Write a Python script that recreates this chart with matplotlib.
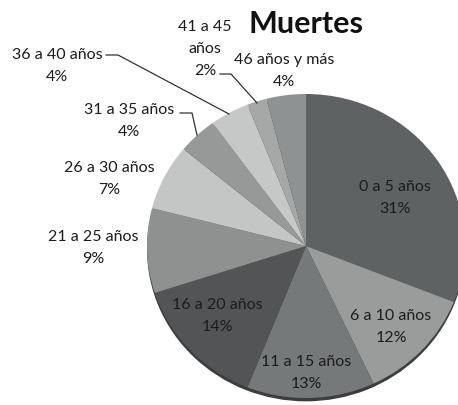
import matplotlib
matplotlib.use("Agg")
import matplotlib.pyplot as plt

plt.rcParams["font.family"] = ["Lato", "DejaVu Sans"]

W, H = 458, 406

# age groups, clockwise from 12 o'clock
labels = ["0 a 5 años", "6 a 10 años", "11 a 15 años", "16 a 20 años", "21 a 25 años",
          "26 a 30 años", "31 a 35 años", "36 a 40 años", "41 a 45\naños", "46 años y más"]
values = [31, 12, 13, 14, 9, 7, 4, 4, 2, 4]
colors = ["#5f6262", "#9a9c9c", "#767979", "#525455", "#8f9191",
          "#c4c5c5", "#979999", "#c6c7c7", "#a6a8a8", "#8f9292"]

# label centres in image pixels
label_pos = [(395, 198), (391, 327), (306, 373), (217, 316), (93, 248),
             (109, 179), (129, 121), (57, 66), (205, 49), (284, 71)]
text_color = "#1c1c1c"

# leader lines in image pixels
leaders = [
    [(180, 114), (192, 114), (197, 136)],
    [(106, 56), (118, 56), (229, 115)],
    [(220, 75), (231, 75), (257, 104)],
]

cx, cy, rx, ry = 306, 247, 159, 152


def fx(x):
    return x / W


def fy(y):
    return 1 - y / H


fig = plt.figure(figsize=(W / 100, H / 100), dpi=100, facecolor="white")

ax = fig.add_axes([0, 0, 1, 1])
ax.pie([1], colors=["#3b3d3e"], radius=1, center=(0, -0.022), startangle=90)
ax.pie(values, colors=colors, radius=1, center=(0, 0), startangle=90, counterclock=False)
ax.set_aspect("auto")
ax.set_xlim(-cx / rx, (W - cx) / rx)
ax.set_ylim(-(H - cy) / ry, cy / ry)
ax.axis("off")

for lab, val, (x, y) in zip(labels, values, label_pos):
    fig.text(fx(x), fy(y), f"{lab}\n{val}%", ha="center", va="center", fontsize=11.5,
             color=text_color, linespacing=1.75)

for pts in leaders:
    xs = [fx(p[0]) for p in pts]
    ys = [fy(p[1]) for p in pts]
    fig.add_artist(plt.Line2D(xs, ys, color="#333333", lw=0.9))

fig.text(fx(306), fy(24), "Muertes", ha="center", va="center", fontsize=22,
         fontweight="bold", color="#111111")

fig.savefig("out.png", dpi=100)
